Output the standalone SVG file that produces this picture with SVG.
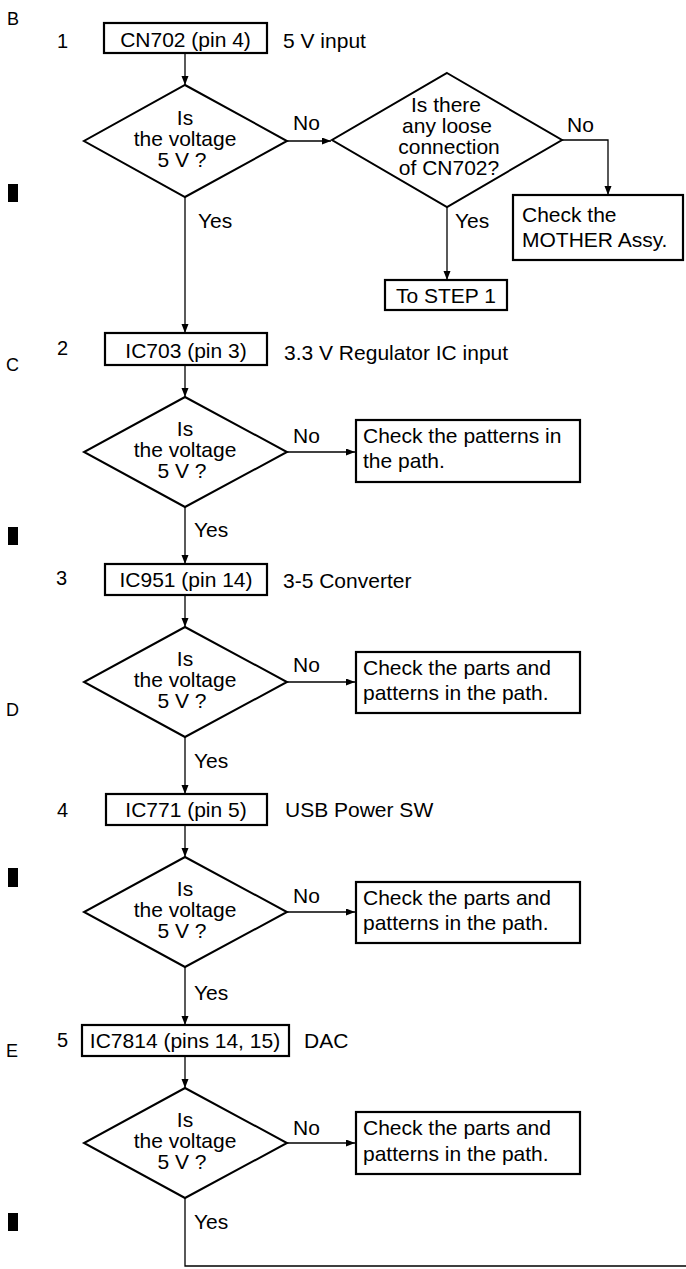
<svg xmlns="http://www.w3.org/2000/svg" width="686" height="1269" viewBox="0 0 686 1269">
<style>
text{font-family:"Liberation Sans",Arial,sans-serif;font-size:21px;fill:#000}
.m{text-anchor:middle}
.ref{font-size:18px}
.num{font-size:20px}
.box{fill:#fff;stroke:#000;stroke-width:2.2}
.dia{fill:#fff;stroke:#000;stroke-width:2}
.ln{fill:none;stroke:#000;stroke-width:1.3}
.bar{fill:#000}
</style>
<defs>
<marker id="ah" markerUnits="userSpaceOnUse" markerWidth="10" markerHeight="8" refX="9" refY="3.5" orient="auto">
<path d="M0,0 L9,3.5 L0,7 Z" fill="#000"/>
</marker>
</defs>
<rect width="686" height="1269" fill="#fff"/>

<g id="margin">
<text class="ref" x="7" y="25">B</text>
<text class="ref" x="6" y="371">C</text>
<text class="ref" x="6" y="716">D</text>
<text class="ref" x="6" y="1057">E</text>
<rect class="bar" x="8" y="184" width="10" height="18"/>
<rect class="bar" x="8" y="527" width="10" height="18"/>
<rect class="bar" x="8" y="868" width="10" height="19"/>
<rect class="bar" x="8" y="1213" width="10" height="18"/>
</g>

<g id="connectors">
<path class="ln" d="M185,53 V85" marker-end="url(#ah)"/>
<path class="ln" d="M287,141 H331" marker-end="url(#ah)"/>
<path class="ln" d="M562,140 H608 V195" marker-end="url(#ah)"/>
<path class="ln" d="M447,207 V280" marker-end="url(#ah)"/>
<path class="ln" d="M185,197 V333" marker-end="url(#ah)"/>
<path class="ln" d="M185,365 V397" marker-end="url(#ah)"/>
<path class="ln" d="M287,452 H355" marker-end="url(#ah)"/>
<path class="ln" d="M185,507 V564" marker-end="url(#ah)"/>
<path class="ln" d="M185,595 V627" marker-end="url(#ah)"/>
<path class="ln" d="M287,682 H355" marker-end="url(#ah)"/>
<path class="ln" d="M185,737 V794" marker-end="url(#ah)"/>
<path class="ln" d="M185,825 V857" marker-end="url(#ah)"/>
<path class="ln" d="M287,912 H355" marker-end="url(#ah)"/>
<path class="ln" d="M185,967 V1025" marker-end="url(#ah)"/>
<path class="ln" d="M185,1056 V1088" marker-end="url(#ah)"/>
<path class="ln" d="M287,1143 H355" marker-end="url(#ah)"/>
<path class="ln" d="M185,1198 V1266 H686"/>
<text x="293" y="130">No</text>
<text x="567" y="132">No</text>
<text x="455" y="228">Yes</text>
<text x="198" y="228">Yes</text>
<text x="293" y="443">No</text>
<text x="194" y="537">Yes</text>
<text x="293" y="672">No</text>
<text x="194" y="768">Yes</text>
<text x="293" y="903">No</text>
<text x="194" y="1000">Yes</text>
<text x="293" y="1135">No</text>
<text x="194" y="1229">Yes</text>
</g>

<g id="step1">
<text class="num" x="57" y="48">1</text>
<rect class="box" x="104" y="23" width="163" height="30"/>
<text class="m" x="185.5" y="47">CN702 (pin 4)</text>
<text x="283" y="48">5 V input</text>
</g>
<g id="q1">
<polygon class="dia" points="185,85 287,141 185,197 84,141"/>
<text class="m" x="185" y="125">Is</text>
<text class="m" x="185" y="146">the voltage</text>
<text class="m" x="182" y="167">5 V ?</text>
</g>
<g id="q1b">
<polygon class="dia" points="447,73 562,140 447,207 332,140"/>
<text class="m" x="446" y="112">Is there</text>
<text class="m" x="447" y="133">any loose</text>
<text class="m" x="449" y="154">connection</text>
<text class="m" x="449" y="175">of CN702?</text>
</g>
<g id="mother">
<rect class="box" x="513" y="195" width="170" height="65"/>
<text x="522" y="222">Check the</text>
<text x="522" y="247">MOTHER Assy.</text>
</g>
<g id="tostep1">
<rect class="box" x="385" y="280" width="122" height="30"/>
<text class="m" x="446" y="303">To STEP 1</text>
</g>

<g id="step2">
<text class="num" x="57" y="355">2</text>
<rect class="box" x="105" y="333" width="162" height="32"/>
<text class="m" x="186" y="358">IC703 (pin 3)</text>
<text x="284" y="360">3.3 V Regulator IC input</text>
</g>
<g id="q2">
<polygon class="dia" points="185,397 287,452 185,507 84,452"/>
<text class="m" x="185" y="436">Is</text>
<text class="m" x="185" y="457">the voltage</text>
<text class="m" x="182" y="478">5 V ?</text>
</g>
<g id="fix2">
<rect class="box" x="356" y="420" width="224" height="62"/>
<text x="363" y="443">Check the patterns in</text>
<text x="363" y="468">the path.</text>
</g>

<g id="step3">
<text class="num" x="56" y="585">3</text>
<rect class="box" x="105" y="564" width="162" height="31"/>
<text class="m" x="186" y="587">IC951 (pin 14)</text>
<text x="283" y="588">3-5 Converter</text>
</g>
<g id="q3">
<polygon class="dia" points="185,627 287,682 185,737 84,682"/>
<text class="m" x="185" y="666">Is</text>
<text class="m" x="185" y="687">the voltage</text>
<text class="m" x="182" y="708">5 V ?</text>
</g>
<g id="fix3">
<rect class="box" x="356" y="652" width="224" height="61"/>
<text x="363" y="675">Check the parts and</text>
<text x="363" y="700">patterns in the path.</text>
</g>

<g id="step4">
<text class="num" x="57" y="817">4</text>
<rect class="box" x="106" y="794" width="161" height="31"/>
<text class="m" x="186" y="817">IC771 (pin 5)</text>
<text x="285" y="817">USB Power SW</text>
</g>
<g id="q4">
<polygon class="dia" points="185,857 287,912 185,967 84,912"/>
<text class="m" x="185" y="896">Is</text>
<text class="m" x="185" y="917">the voltage</text>
<text class="m" x="182" y="938">5 V ?</text>
</g>
<g id="fix4">
<rect class="box" x="356" y="882" width="224" height="61"/>
<text x="363" y="905">Check the parts and</text>
<text x="363" y="930">patterns in the path.</text>
</g>

<g id="step5">
<text class="num" x="57" y="1047">5</text>
<rect class="box" x="82" y="1025" width="207" height="31"/>
<text class="m" x="185" y="1048">IC7814 (pins 14, 15)</text>
<text x="304" y="1048">DAC</text>
</g>
<g id="q5">
<polygon class="dia" points="185,1088 287,1143 185,1198 84,1143"/>
<text class="m" x="185" y="1127">Is</text>
<text class="m" x="185" y="1148">the voltage</text>
<text class="m" x="182" y="1169">5 V ?</text>
</g>
<g id="fix5">
<rect class="box" x="356" y="1112" width="224" height="62"/>
<text x="363" y="1135">Check the parts and</text>
<text x="363" y="1161">patterns in the path.</text>
</g>
</svg>
